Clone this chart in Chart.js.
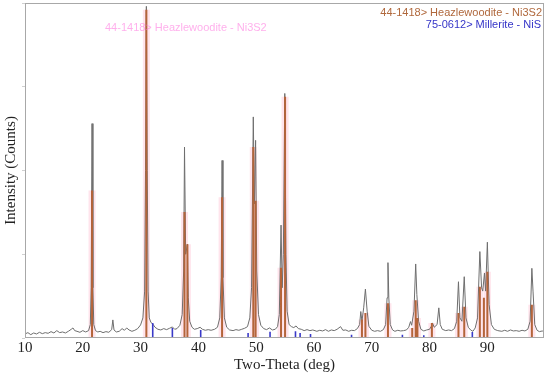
<!DOCTYPE html>
<html>
<head>
<meta charset="utf-8">
<script src="https://cdn.jsdelivr.net/npm/chart.js@4"></script>
<style>
  body { margin: 0; background: #fff; }
  #wrap { width: 550px; height: 376px; position: relative; }
</style>
</head>
<body>
<div id="wrap"><canvas id="xrd"></canvas></div>
<script>
// measured pattern (2-theta, relative counts)
const theta = [10.0,10.5,11.0,11.5,12.0,12.5,13.0,13.5,14.0,14.5,15.0,15.5,16.0,16.5,17.0,17.5,18.0,18.3,18.6,19.0,19.5,20.0,20.5,21.0,
  21.3,21.45,21.6,21.75,21.9,22.2,22.6,23.0,23.5,24.0,24.5,25.0,25.2,25.4,25.8,26.3,26.8,27.2,27.6,28.0,28.5,29.0,29.5,30.0,
  30.4,30.7,30.85,31.0,31.15,31.3,31.5,31.8,32.1,32.5,33.0,33.5,34.0,34.5,35.0,35.5,35.9,36.3,36.8,37.2,37.45,37.6,37.8,38.1,
  38.25,38.5,38.9,39.3,39.8,40.3,40.7,41.2,41.7,42.2,42.8,43.3,43.7,43.95,44.1,44.25,44.5,44.9,45.4,46.0,46.5,47.0,47.5,48.0,
  48.5,48.9,49.2,49.5,49.7,49.9,50.1,50.4,50.8,51.3,51.8,52.3,52.8,53.3,53.7,54.0,54.3,54.5,54.7,54.95,55.15,55.35,55.7,56.1,
  56.5,56.9,57.3,57.8,58.3,58.8,59.3,59.8,60.5,61.0,61.5,62.0,62.5,63.0,63.5,64.0,64.6,65.0,65.5,66.0,66.5,67.0,67.5,67.9,
  68.1,68.3,68.6,68.9,69.2,69.5,70.0,70.5,71.0,71.5,72.0,72.4,72.65,72.8,72.95,73.2,73.6,74.0,74.5,75.0,75.5,76.0,76.4,76.7,
  76.9,77.3,77.6,77.8,78.1,78.5,79.0,79.5,80.0,80.3,80.5,80.8,81.3,81.6,81.85,82.2,82.8,83.3,83.8,84.3,84.7,85.0,85.25,85.6,
  86.0,86.3,86.7,87.1,87.5,87.9,88.3,88.7,89.0,89.2,89.5,89.7,90.0,90.3,90.7,91.2,91.8,92.5,93.0,93.5,94.0,94.5,95.0,95.5,
  96.0,96.5,97.0,97.4,97.7,97.9,98.2,98.6,99.0,99.5,99.8];
const counts = [1.2,1.6,1.0,1.5,1.2,1.7,1.3,1.6,1.4,1.9,1.5,2.2,1.6,1.8,1.5,2.0,2.6,3.0,2.2,2.0,1.7,2.2,1.8,2.2,
  4,15,64,15,4,2.2,1.8,2.0,1.6,1.9,1.7,2.5,5.4,2.4,1.8,2.0,2.8,2.3,3.0,2.4,2.0,2.3,2.8,3.9,
  6,14,50,99,50,14,6,4.6,4.2,3.2,2.6,2.4,2.8,2.5,2.9,3.3,2.6,2.8,3.8,7,20,57,25,28,
  12,5,3.2,2.6,2.8,3.2,2.6,2.3,2.5,2.3,2.6,3.2,6,18,53,18,6,3.2,2.4,2.2,2.5,2.3,2.6,2.9,
  3.4,6,15,66,40,59,20,7,3.8,2.8,2.5,3.0,2.4,2.6,3.4,7,33.7,15,25,73,25,8,4,3.4,
  3.1,3.6,2.8,2.6,2.2,2.5,2.2,2.4,2.0,2.3,2.1,2.5,2.0,2.4,2.2,2.6,3.4,2.3,2.4,2.0,2.3,2.2,2.8,4,
  7.9,5,9,14.6,8,3.5,2.3,2.0,2.2,2.0,2.5,4,12,22.5,12,4,2.4,2.0,2.3,2.1,2.2,2.4,3.2,4.9,
  3.8,8,22.1,13,5,2.6,2.1,2.4,2.6,3.5,4.5,3.2,4,9,4,2.6,2.2,2.4,2.2,2.8,5,16.8,6,5,
  18.3,6,3.2,2.4,2.0,3,6,25.8,15,14,19.4,14,28.6,10,4,2.6,2.2,2.0,2.3,2.0,2.4,2.1,2.2,2.0,
  2.3,2.1,2.6,5,20.8,14,4,2.3,1.9,2.1,1.8];

// 44-1418 Heazlewoodite - Ni3S2 reference lines
const ni3s2Pos = [21.6,31.0,37.6,38.1,44.1,49.5,49.9,54.3,55.0,68.3,68.9,72.8,77.0,77.6,77.9,80.4,85.0,86.0,88.7,89.4,90.0,97.7];
const ni3s2Int = [44,98,37.6,28,42,57,41,21,72,5.5,7.5,10.4,3,11.3,6,4.5,7.5,9.3,15.3,12,19.8,9.9];

// 75-0612 Millerite - NiS reference lines
const nisPos = [32.1,35.5,40.4,48.6,52.4,56.8,57.6,59.4,66.5,75.3,79.0,87.4];
const nisInt = [4.5,3.0,2.4,1.5,1.9,2.0,1.5,1.2,1.0,1.0,0.8,1.8];

const xTicks = [10,20,30,40,50,60,70,80,90];

const pattern = theta.map((t, i) => ({x: t, y: counts[i]}));
// each stick: from 0 up to its intensity, then a gap
const sticks = (pos, ints) => pos.flatMap((t, i) => [{x: t, y: 0}, {x: t, y: ints[i]}, {x: t, y: null}]);

// frame + phase labels
const frameAndLabels = {
  id: 'frameAndLabels',
  afterDraw(chart) {
    const {ctx, chartArea: a} = chart;
    ctx.save();
    ctx.strokeStyle = '#a8a8a8';
    ctx.lineWidth = 1;
    ctx.strokeRect(a.left + 0.5, a.top + 0.5, a.right - a.left - 1, a.bottom - a.top - 1);
    ctx.font = '11px "Liberation Sans", Arial, sans-serif';
    ctx.textAlign = 'right';
    ctx.textBaseline = 'middle';
    ctx.fillStyle = '#b0683c';
    ctx.fillText('44-1418> Heazlewoodite - Ni3S2', a.right - 2, 13);
    ctx.fillStyle = '#3535c8';
    ctx.fillText('75-0612> Millerite - NiS', a.right - 3, 25);
    ctx.textAlign = 'left';
    ctx.fillStyle = 'rgba(255,110,220,0.55)';
    ctx.fillText('44-1418> Heazlewoodite - Ni3S2', 105, 28);
    ctx.restore();
  }
};

const stickStyle = { pointRadius: 0, tension: 0, fill: false, spanGaps: false, borderCapStyle: 'butt' };

new Chart(document.getElementById('xrd'), {
  type: 'line',
  data: {
    datasets: [
      { ...stickStyle, data: sticks(nisPos, nisInt), borderColor: '#3a3ac8', borderWidth: 1.6, order: 0 },
      { ...stickStyle, data: sticks(ni3s2Pos, ni3s2Int), borderColor: '#b4643a', borderWidth: 2, order: 1 },
      { data: pattern, borderColor: '#6e6e6e', borderWidth: 1, pointRadius: 0, tension: 0, fill: false, order: 2 },
      { ...stickStyle, data: sticks(ni3s2Pos, ni3s2Int), borderColor: 'rgba(255,130,170,0.22)', borderWidth: 7, order: 3 }
    ]
  },
  options: {
    responsive: true,
    maintainAspectRatio: false,
    animation: false,
    layout: { padding: { top: 3, right: 6, left: 0, bottom: 0 } },
    plugins: { legend: { display: false }, tooltip: { enabled: false } },
    scales: {
      x: {
        type: 'linear',
        min: 10,
        max: 99.8,
        offset: false,
        afterFit: s => { s.height = 38; },
        afterBuildTicks: s => { s.ticks = xTicks.map(v => ({value: v})); },
        grid: { display: false, drawTicks: false },
        border: { display: false },
        ticks: {
          padding: 1,
          color: '#222',
          maxRotation: 0,
          font: { family: '"Liberation Serif", "Times New Roman", serif', size: 15 }
        },
        title: {
          display: true,
          text: 'Two-Theta (deg)',
          color: '#222',
          padding: { top: 0, bottom: 2 },
          font: { family: '"Liberation Serif", "Times New Roman", serif', size: 15 }
        }
      },
      y: {
        min: 0,
        max: 100,
        afterFit: s => { s.width = 25; },
        ticks: { display: false, stepSize: 25 },
        grid: { drawOnChartArea: false, drawTicks: true, tickLength: 3, color: '#d0d0d0' },
        border: { display: false },
        title: {
          display: true,
          text: 'Intensity (Counts)',
          color: '#222',
          padding: { top: 2, bottom: 2 },
          font: { family: '"Liberation Serif", "Times New Roman", serif', size: 15 }
        }
      }
    }
  },
  plugins: [frameAndLabels]
});
</script>
</body>
</html>
